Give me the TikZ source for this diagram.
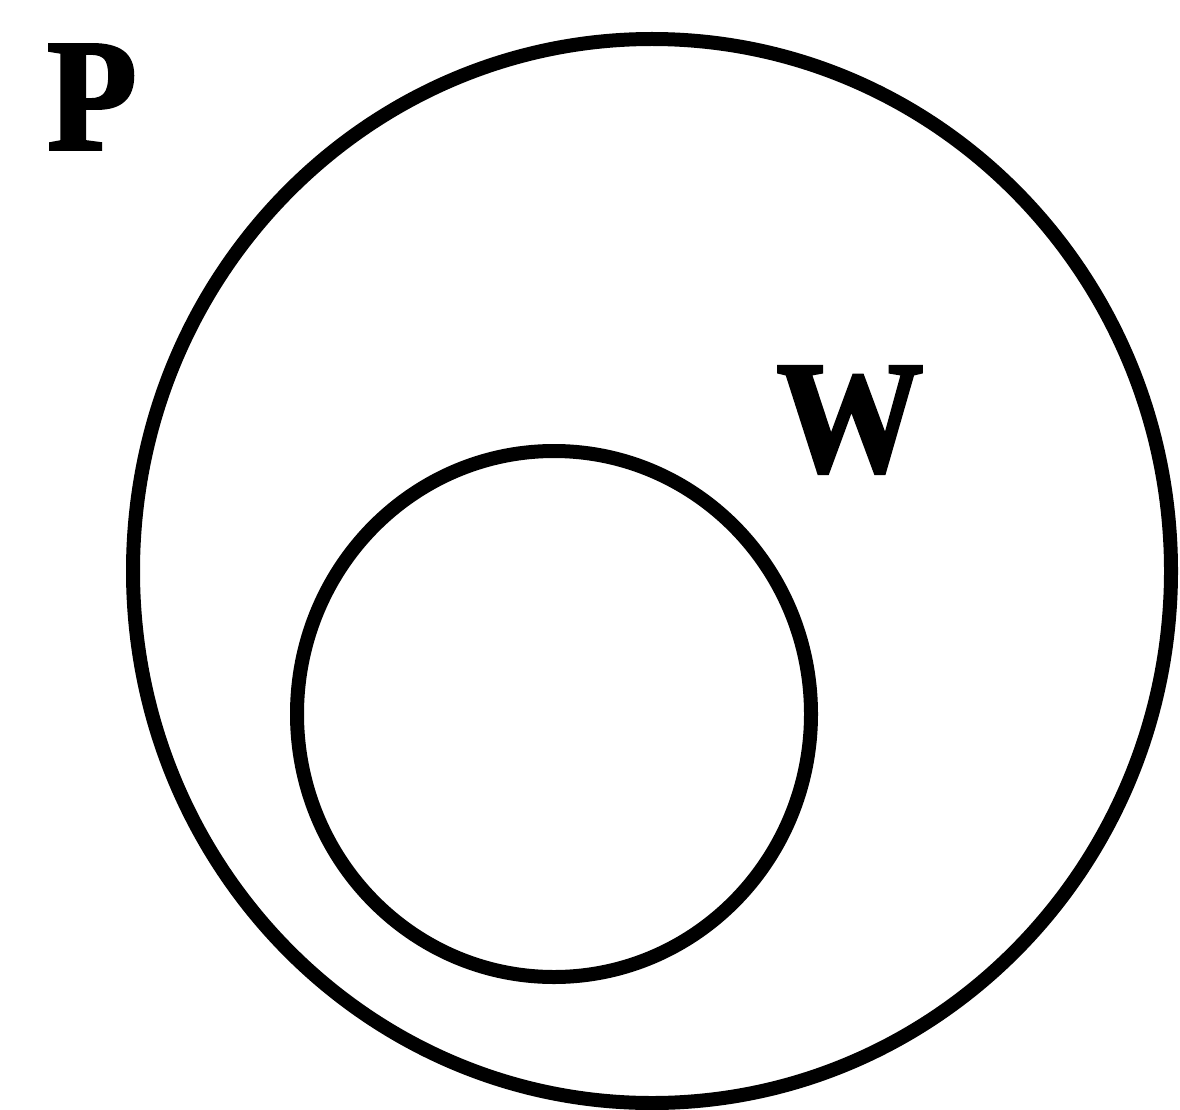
\documentclass[tikz,border=0pt]{standalone}
\usepackage{fontspec}
\setmainfont{Liberation Serif}
\newfontfamily\heavyserif[FakeBold=2]{Liberation Serif Bold}
\begin{document}
\begin{tikzpicture}[x=1pt,y=-1pt,
  ring/.style={draw=black,line width=14pt},
  lbl/.style={inner sep=0pt,font=\fontsize{160}{160}\heavyserif}]
\useasboundingbox (0,0) rectangle (1180,1110);
\draw[ring] (652,571) ellipse [x radius=519, y radius=532];
\draw[ring] (554,714) ellipse [x radius=257, y radius=263];
\node[lbl,xscale=0.92] (P) at (92,97) {P};
\node[lbl,xscale=0.92] (W) at (850,420) {W};
\end{tikzpicture}
\end{document}
